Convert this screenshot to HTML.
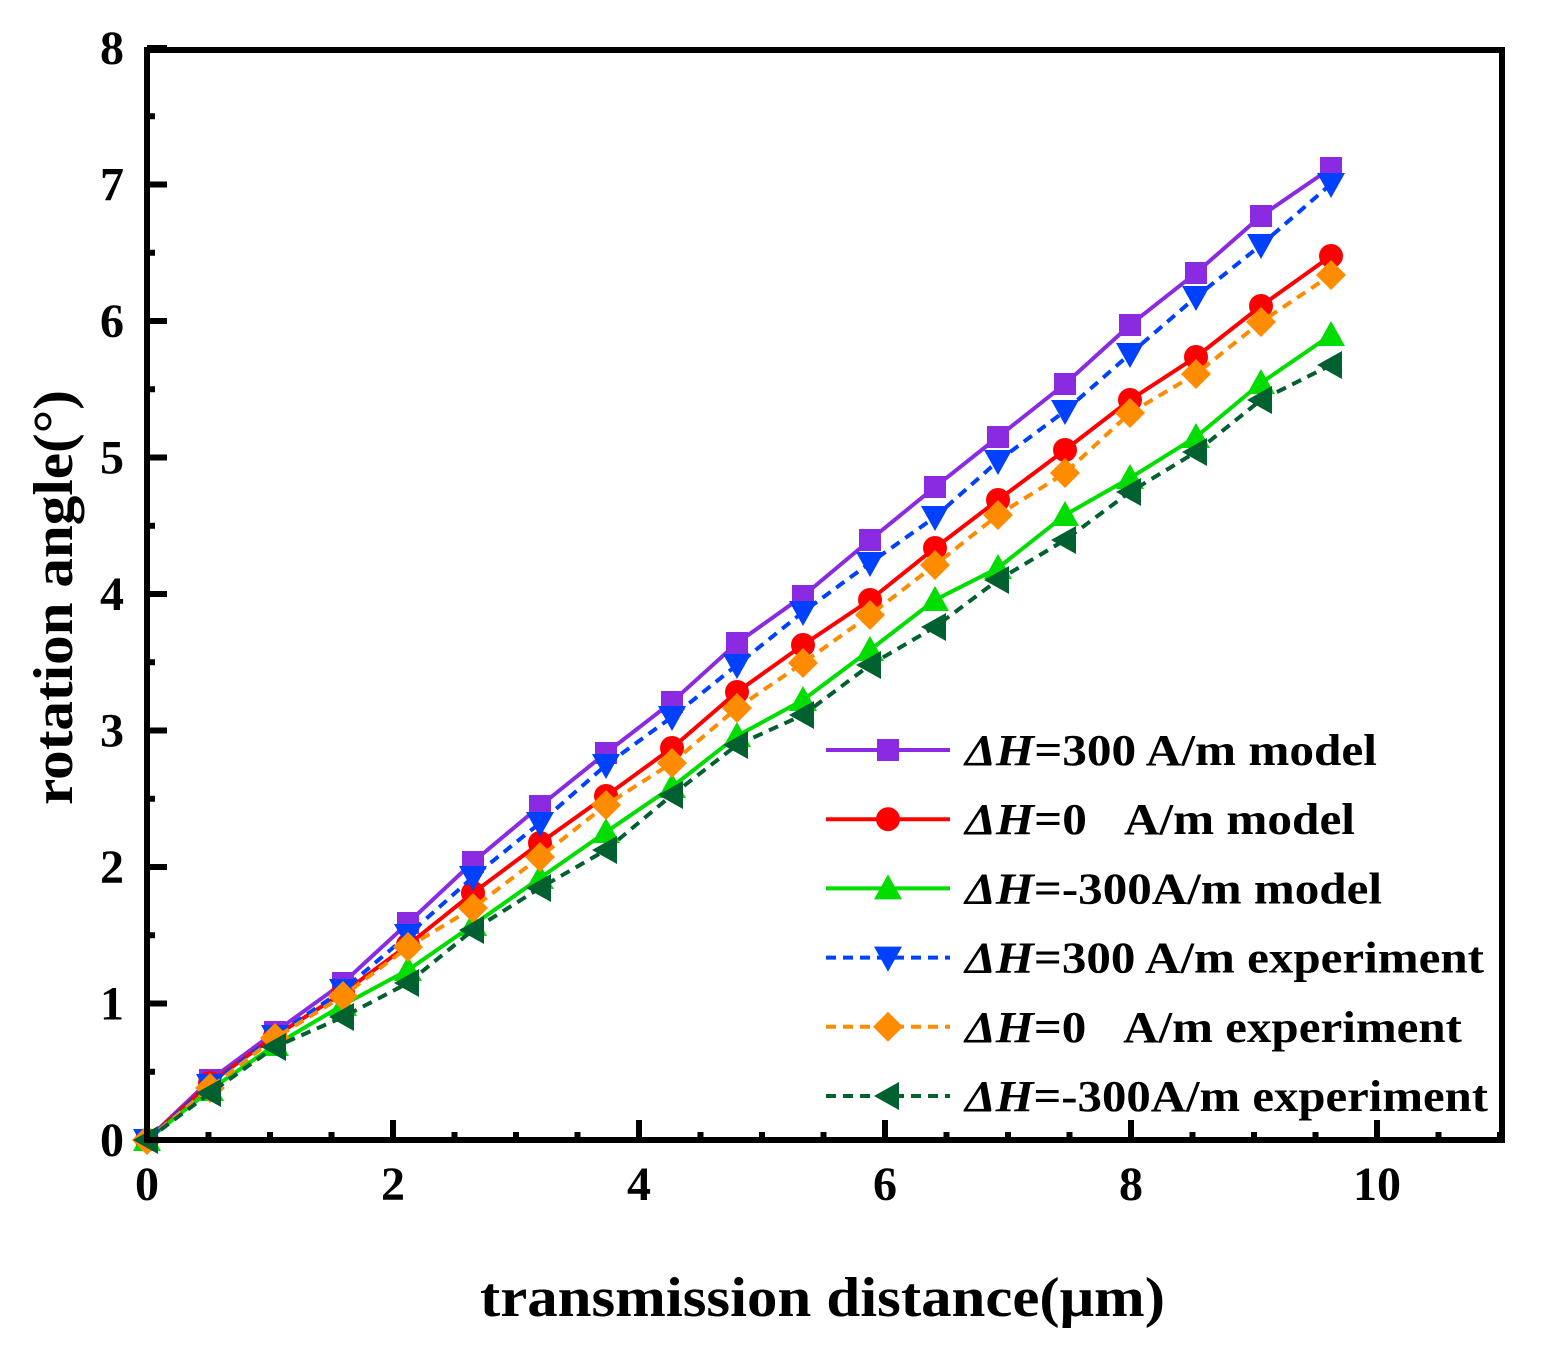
<!DOCTYPE html>
<html><head><meta charset="utf-8"><style>
html,body{margin:0;padding:0;background:#fff;}
svg{display:block;font-family:"Liberation Serif",serif;font-weight:bold;}
</style></head><body>
<svg id="s" width="1544" height="1354" viewBox="0 0 1544 1354" xmlns="http://www.w3.org/2000/svg"></svg>
<script>
const s=document.getElementById('s');
let h='';
const X0=147,XS=123,Y0=1140,YS=136.5;
for(let i=0;i<=22;i++){const x=X0+i*XS/2;if(x>1500)break;
 const maj=i%4==0; h+=`<line x1="${x}" y1="${Y0}" x2="${x}" y2="${Y0-(maj?20:8)}" stroke="#000" stroke-width="6"/>`;}
for(let i=0;i<=16;i++){const y=Y0-i*YS/2;const maj=i%2==0;
 h+=`<line x1="${X0}" y1="${y}" x2="${X0+(maj?20:8)}" y2="${y}" stroke="#000" stroke-width="6"/>`;}
for(let i=0;i<=10;i+=2)h+=`<text x="${X0+i*XS}" y="1200" font-size="48" text-anchor="middle">${i}</text>`;
for(let i=0;i<=8;i++)h+=`<text x="124" y="${Y0-i*YS+16}" font-size="48" text-anchor="end">${i}</text>`;
h+=`<text x="480" y="1316" font-size="56" textLength="685" lengthAdjust="spacingAndGlyphs">transmission distance(μm)</text>`;
h+=`<text transform="translate(72,805) rotate(-90)" font-size="56" textLength="415" lengthAdjust="spacingAndGlyphs">rotation angle(°)</text>`;
const xs=[147,210,275,343,408,473,540,606,672,737,803,870,935,998,1065,1130,1196,1261,1331];
const S=[
 ['#8a2be2',0,'sq',[1140,1080,1032,983,923,862,806,753,702,643,596,540,487,437,384,325,273,216,168]],
 ['#ff0000',0,'ci',[1140,1083,1036,993,945,893,843,796,748,692,645,600,548,500,450,400,357,306,256]],
 ['#00dd00',0,'tu',[1140,1090,1045,1005,970,925,878,832,787,736,700,650,600,568,515,478,437,383,335]],
 ['#0040ff',1,'td',[1140,1085,1036,990,935,877,823,765,717,665,612,563,517,461,411,354,297,245,184]],
 ['#ff8c00',1,'di',[1140,1088,1038,996,947,908,857,805,763,708,663,615,565,515,473,413,374,322,275]],
 ['#006030',1,'tl',[1140,1093,1047,1017,983,930,888,850,795,745,715,665,627,580,540,492,452,400,365]]];
function mk(t,x,y,c){
 if(t=='sq')return `<rect x="${x-11}" y="${y-11}" width="22" height="22" fill="${c}"/>`;
 if(t=='ci')return `<circle cx="${x}" cy="${y}" r="12" fill="${c}"/>`;
 if(t=='tu')return `<polygon points="${x},${y-14} ${x-14},${y+11} ${x+14},${y+11}" fill="${c}"/>`;
 if(t=='td')return `<polygon points="${x},${y+14} ${x-14},${y-11} ${x+14},${y-11}" fill="${c}"/>`;
 if(t=='di')return `<polygon points="${x},${y-15} ${x+15},${y} ${x},${y+15} ${x-15},${y}" fill="${c}"/>`;
 return `<polygon points="${x-14},${y} ${x+11},${y-14} ${x+11},${y+14}" fill="${c}"/>`;}
S.forEach(([c,d,t,ys])=>{h+=`<polyline fill="none" stroke="${c}" stroke-width="4" ${d?'stroke-dasharray="10,7"':''} points="${xs.map((x,i)=>x+','+ys[i]).join(' ')}"/>`;
 xs.forEach((x,i)=>h+=mk(t,x,ys[i],c));});
const labs=[['=300 A/m model',412],['=0 &#160;&#160;A/m model',390],['=-300A/m model',417],['=300 A/m experiment',519],['=0 &#160;&#160;A/m experiment',497],['=-300A/m experiment',523]];
S.forEach(([c,d,t],i)=>{const y=750+i*69.2;
 h+=`<line x1="826" y1="${y}" x2="950" y2="${y}" stroke="${c}" stroke-width="4" ${d?'stroke-dasharray="10,7"':''}/>`+mk(t,888,y,c);
 h+=`<text x="965" y="${y+15}" font-size="44" textLength="${labs[i][1]}" lengthAdjust="spacingAndGlyphs"><tspan font-style="italic">ΔH</tspan>${labs[i][0]}</text>`;});
h+=`<rect x="147" y="50" width="1355" height="1090" fill="none" stroke="#000" stroke-width="6"/>`;
s.innerHTML=h;
</script>
</body></html>
